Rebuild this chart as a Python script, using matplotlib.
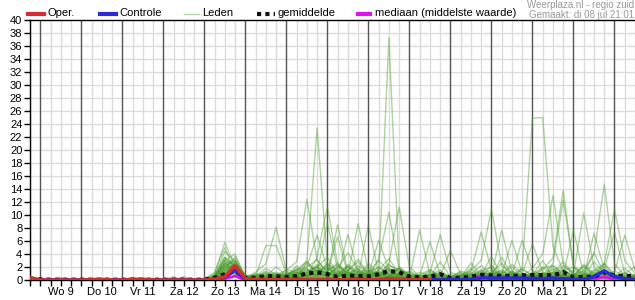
import numpy as np
import matplotlib
matplotlib.use("Agg")
import matplotlib.pyplot as plt
from matplotlib.lines import Line2D

plt.rcParams['font.family'] = ['Liberation Sans', 'DejaVu Sans']

# time axis: hours from Wo 9 00:00, one value every 6 hours (-6h .. 348h)
uren = list(range(-6, 349, 6))
dagen = ["Wo 9", "Do 10", "Vr 11", "Za 12", "Zo 13", "Ma 14", "Di 15",
         "Wo 16", "Do 17", "Vr 18", "Za 19", "Zo 20", "Ma 21", "Di 22"]

# neerslag (mm) per 6 uur
# layout per row: start | 14 days x 4 | 3 tail values
oper = [0.3, 0, 0, 0, 0, 0, 0.05, 0.1, 0, 0, 0.1, 0.1, 0, 0, 0, 0, 0,
        0, 0.1, 0.5, 2.2, 0.2, 0.1, 0.1, 0.05, 0.1, 0.1, 0.05, 0.1,
        0.1, 0.05, 0.05, 0.1, 0.05, 0.05, 0.1, 0.1, 0.05, 0.05, 0.05,
        None, None, None, None, None, None, None, None, None, None,
        None, None, None, None, None, None, None, None, None, None]

controle = [0.2, 0, 0, 0, 0, 0, 0.05, 0.05, 0, 0, 0.05, 0.05, 0, 0, 0, 0, 0,
            0, 0.1, 0.4, 1.5, 0.1, 0.05, 0.05, 0.05, 0.05, 0.1, 0.05, 0.05,
            0.1, 0.05, 0.05, 0.05, 0.05, 0.05, 0.1, 0.05, 0.05, 0.05, 0.05,
            0.05, 0.1, 0.05, 0.1, 0.3, 0.3, 0.3, 0.3, 0.3, 0.25, 0.2, 0.3,
            0.2, 0.1, 0.1, 0.5, 1.4, 0.5, 0.2, 0.1]

gemiddelde = [0.2, 0.1, 0.05, 0.05, 0.05, 0.05, 0.05, 0.05, 0.05, 0.05, 0.05,
              0.05, 0.05, 0.05, 0.05, 0.05, 0.05, 0.05, 0.35, 0.9, 1.4,
              0.3, 0.35, 0.6, 0.55, 0.45, 0.6, 1.0, 1.2, 0.9, 0.45, 0.7, 0.6,
              0.55, 0.9, 1.4, 1.2, 0.5, 0.4, 0.5, 0.9, 0.3, 0.35, 0.5, 0.8,
              0.7, 0.6, 0.6, 0.7, 0.75, 0.75, 0.7, 1.2, 0.4, 0.45, 0.5, 1.2,
              0.65, 0.6, 0.65]

mediaan = [0.2, 0, 0, 0, 0, 0, 0, 0, 0, 0, 0, 0, 0, 0, 0, 0, 0,
           0, 0, 0.2, 0.6, 0, 0, 0, 0, 0, 0.05, 0.1, 0.1, 0.1, 0, 0.1, 0.3,
           0.1, 0.1, 0.3, 0.1, 0, 0, 0, 0.05, 0, 0, 0.1, 0.6, 0.1, 0.1, 0.1,
           0.3, 0.1, 0.1, 0.1, 0.1, 0, 0, 0.1, 0.5, 0.1, 0, 0]

leden = [
    [0.1, 0, 0, 0.2, 0, 0, 0, 0, 0, 0, 0.1, 0, 0, 0, 0, 0, 0, 0, 0.4, 2.5, 1.8,
     0.2, 0, 0.3, 0.5, 0.8, 1.5, 2.0, 3.1, 1.2, 0.6, 2.4, 1.0, 0.5, 1.5, 37.3, 2.0,
     0.3, 0, 0, 0.2, 0, 0, 0.4, 0.8, 1.2, 0.5, 0, 0, 0.3, 0.6, 0.2, 0,
     0, 0, 0.5, 1.2, 0.3, 0, 0],
    [0, 0, 0, 0, 0, 0, 0.1, 0, 0, 0, 0, 0, 0, 0, 0, 0.3, 0, 0, 0.8, 3.5, 2.2,
     0.3, 0.6, 1.1, 0.4, 1.6, 1.2, 3.0, 23.4, 2.5, 0.8, 1.5, 3.2, 1.0, 0.4, 2.2, 1.6,
     0.5, 0.2, 0, 0.4, 0, 0.6, 1.8, 0.5, 0.2, 0, 0.3, 1.0, 0.4, 0, 0, 0,
     0.6, 2.2, 0.8, 0.3, 0, 0.2, 0.5],
    [0.3, 0, 0, 0, 0, 0, 0, 0, 0, 0, 0, 0, 0, 0, 0, 0, 0, 0, 0.2, 1.6, 2.4,
     0.5, 0.2, 0, 0.3, 0.4, 1.0, 1.8, 0.6, 1.4, 2.6, 0.8, 0.3, 0.6, 1.5, 3.3, 0.9,
     0.2, 0.4, 1.2, 0.6, 0, 0, 0.3, 1.4, 2.0, 0.6, 0.4, 1.8, 24.9, 25.0, 5.2, 1.3,
     0.6, 2.4, 1.0, 0.5, 0.2, 0, 0],
    [0, 0, 0, 0, 0, 0, 0, 0, 0, 0, 0, 0, 0, 0, 0, 0, 0, 0, 0.3, 2.0, 3.0,
     0.4, 0, 0.5, 1.0, 0.6, 0.3, 1.2, 2.0, 3.5, 1.0, 0.4, 0.8, 1.6, 0.5, 0.2, 2.0,
     0.6, 0.3, 0, 0, 0.2, 0.5, 0.8, 0.4, 1.0, 2.6, 0.8, 0.3, 0.6, 1.8, 2.2, 0.8,
     0.5, 1.5, 4.0, 14.7, 2.5, 0.6, 0.3],
    [0, 0, 0, 0, 0, 0, 0, 0, 0, 0, 0.2, 0, 0, 0, 0, 0, 0, 0, 0.5, 3.0, 1.5,
     0.2, 0.8, 0.4, 0, 0.3, 0.6, 2.5, 1.0, 0.8, 1.8, 4.2, 1.5, 0.5, 1.2, 0.8, 0.4,
     0.3, 0.2, 0.8, 1.5, 0.4, 0, 0, 0.6, 2.2, 0.8, 0.3, 0, 0.5, 1.6, 3.4, 13.8,
     2.0, 0.5, 0.8, 1.6, 0.4, 1.0, 2.0],
    [0, 0, 0, 0, 0, 0, 0, 0, 0, 0, 0, 0, 0, 0, 0, 0, 0, 0, 0.2, 1.2, 2.6,
     0.6, 0.2, 0.8, 1.2, 0.5, 2.2, 0.6, 1.4, 2.0, 0.8, 1.6, 0.4, 1.0, 3.0, 1.4, 0.6,
     0.4, 0.3, 0, 0.2, 0, 0.4, 1.0, 2.2, 0.8, 0.5, 1.3, 0.6, 1.8, 4.0, 13.0, 2.4,
     0.8, 0.3, 0.6, 2.0, 0.6, 0.3, 0],
    [0.4, 0, 0, 0, 0, 0, 0, 0, 0, 0, 0, 0, 0, 0, 0, 0.5, 0, 0, 1.0, 5.8, 2.0,
     0.3, 0.6, 1.8, 0.8, 1.5, 2.8, 12.4, 3.0, 1.2, 0.5, 2.0, 0.8, 0.4, 1.0, 0.5, 1.6,
     1.0, 0.3, 0.2, 0, 0, 0.2, 0.6, 0.3, 0.8, 1.4, 0.5, 0.2, 0.4, 0.2, 1.0, 2.2,
     1.0, 0.6, 0.3, 0, 0.5, 1.2, 0.4],
    [0, 0, 0, 0, 0, 0, 0, 0, 0, 0, 0, 0, 0, 0, 0, 0, 0, 0, 0.4, 4.4, 2.8,
     0.8, 0.3, 0.6, 2.0, 0.8, 1.2, 0.6, 3.5, 11.3, 2.5, 1.0, 1.8, 0.6, 0.4, 1.5, 0.8,
     0.3, 0.6, 0.4, 0.2, 0.2, 0, 0.3, 0.8, 1.6, 0.5, 0.2, 0.6, 0.3, 1.0, 0.4, 0.8,
     1.5, 0.6, 2.8, 1.0, 0.3, 0, 0],
    [0, 0, 0.1, 0, 0, 0, 0, 0, 0, 0, 0, 0.3, 0, 0, 0, 0, 0, 0, 0.3, 2.2, 1.6,
     0.4, 1.0, 0.6, 0.3, 0.2, 0.8, 1.6, 0.8, 2.6, 1.4, 0.5, 1.0, 0.8, 2.0, 1.0, 0.5,
     1.4, 0.6, 0.3, 0.8, 0.4, 0.6, 1.5, 3.0, 10.9, 2.2, 0.8, 0.4, 1.2, 0.6, 0.3, 0.8,
     0.5, 0.3, 1.4, 2.6, 0.8, 0.4, 0.2],
    [0, 0, 0, 0, 0, 0, 0, 0, 0, 0, 0, 0, 0, 0, 0, 0, 0, 0, 0.6, 3.0, 4.0,
     0.5, 0.2, 0.3, 0.6, 1.0, 0.4, 2.8, 1.2, 0.6, 2.2, 0.8, 0.4, 2.6, 0.8, 0.6, 1.2,
     0.5, 0.2, 0.6, 1.0, 0.3, 0.2, 0, 0.5, 0.8, 1.0, 2.4, 1.0, 0.6, 0.8, 1.2, 2.8,
     1.0, 10.3, 2.0, 0.6, 0.3, 0.6, 0.8],
    [0, 0, 0, 0, 0, 0, 0, 0, 0, 0, 0, 0, 0, 0, 0, 0, 0, 0, 0.2, 1.8, 3.3,
     0.6, 0.4, 0.2, 0.8, 0.6, 1.8, 0.8, 2.2, 1.0, 0.6, 1.4, 2.8, 0.8, 0.3, 1.2, 0.6,
     0.3, 0.8, 1.6, 0.4, 0, 0.3, 0.6, 1.2, 0.5, 0.8, 0.3, 1.6, 0.8, 2.0, 0.6, 0.4,
     0.3, 1.0, 0.6, 2.4, 10.9, 3.0, 1.0],
    [0, 0, 0, 0, 0, 0, 0, 0, 0, 0, 0, 0, 0, 0, 0, 0, 0, 0, 0.4, 2.8, 2.5,
     0.2, 0.5, 1.4, 0.6, 0.8, 1.2, 0.6, 1.8, 0.8, 2.0, 1.0, 0.6, 1.5, 0.8, 2.6, 11.2,
     2.0, 0.6, 0.4, 1.0, 0.6, 0.2, 0.5, 0.8, 0.3, 1.2, 0.8, 0.4, 1.0, 0.5, 1.8, 0.6,
     0.4, 0.8, 0.3, 0.5, 1.4, 0.6, 0.2],
    [0.2, 0, 0, 0, 0, 0, 0, 0, 0, 0, 0, 0, 0, 0, 0, 0, 0, 0, 0.6, 3.5, 1.8,
     0.5, 0.8, 0.3, 0.2, 0.4, 0.6, 1.0, 2.4, 1.6, 0.8, 2.2, 1.2, 0.6, 3.2, 10.4, 1.5,
     0.8, 0.4, 0.2, 0, 0.3, 0.8, 0.4, 0.2, 0.6, 0.4, 1.0, 0.5, 0.2, 0.8, 0.6, 1.4,
     2.0, 0.8, 0.5, 0.3, 0, 0.4, 0.6],
    [0, 0, 0, 0, 0, 0, 0, 0, 0, 0, 0, 0, 0, 0, 0, 0, 0, 0, 0.3, 2.4, 3.0,
     0.4, 1.2, 2.5, 8.1, 1.4, 0.6, 1.2, 0.8, 2.4, 1.0, 0.6, 1.4, 0.8, 0.4, 1.8, 0.6,
     0.3, 1.2, 0.6, 0.4, 0.2, 0, 0.4, 1.0, 0.6, 0.3, 0.8, 1.8, 0.5, 1.2, 0.4, 0.6,
     1.0, 0.4, 0.8, 1.6, 0.5, 0.2, 0],
    [0, 0, 0, 0, 0, 0, 0, 0, 0, 0, 0, 0, 0, 0, 0, 0, 0, 0, 0.5, 3.2, 2.0,
     0.6, 0.5, 5.3, 5.3, 1.0, 0.8, 2.0, 6.9, 1.8, 0.6, 1.0, 0.5, 1.2, 2.0, 0.8, 0.4,
     0.6, 0.2, 0.8, 0.5, 0.3, 0.6, 1.2, 0.8, 0.4, 0.6, 0.3, 0.5, 0.8, 0.4, 2.2, 1.0,
     0.6, 1.4, 0.5, 0.3, 0.8, 0.3, 0.5],
    [0, 0, 0, 0, 0, 0, 0, 0, 0, 0, 0, 0, 0, 0, 0, 0, 0, 0, 0.2, 1.5, 2.2,
     0.3, 0.2, 0.6, 1.0, 0.5, 1.6, 2.8, 1.2, 8.8, 1.6, 0.8, 8.7, 1.4, 0.6, 0.8, 0.5,
     0.2, 0.4, 1.5, 0.8, 0.3, 0.2, 0.6, 1.4, 0.6, 0.8, 1.2, 0.4, 0.3, 0.6, 1.0, 0.5,
     0.8, 2.0, 0.6, 0.4, 0.2, 0.8, 0.4],
    [0, 0, 0, 0, 0, 0, 0, 0, 0, 0, 0, 0, 0, 0, 0, 0, 0, 0, 0.8, 2.0, 1.4,
     0.5, 0.3, 0.8, 0.4, 1.2, 0.6, 1.4, 2.0, 0.8, 8.5, 1.2, 0.6, 8.5, 1.0, 0.6, 1.8,
     0.5, 0.3, 0.2, 0.6, 0.4, 1.0, 0.6, 0.3, 1.2, 0.8, 2.0, 0.6, 0.5, 0.3, 0.8, 1.8,
     0.4, 0.6, 1.2, 0.8, 0.5, 1.0, 0.3],
    [0, 0, 0, 0, 0, 0, 0, 0, 0, 0, 0, 0, 0, 0, 0, 0, 0, 0, 0.3, 2.6, 1.2,
     0.2, 0.6, 0.3, 0.5, 0.8, 1.0, 0.4, 1.6, 1.0, 0.5, 7.0, 1.2, 0.8, 6.1, 1.6, 0.6,
     0.4, 7.7, 0.8, 0.3, 0.2, 0.5, 1.0, 0.6, 0.8, 0.3, 1.4, 0.6, 0.4, 1.0, 0.5, 0.3,
     0.6, 0.4, 1.0, 2.4, 0.8, 0.3, 0.6],
    [0.1, 0, 0, 0.4, 0, 0, 0, 0, 0, 0, 0, 0, 0, 0, 0, 0, 0, 0, 0.2, 1.0, 2.8,
     0.6, 0.4, 1.2, 0.5, 0.3, 0.8, 1.6, 0.6, 1.4, 2.4, 0.8, 0.5, 1.0, 0.6, 2.4, 1.2,
     0.6, 0.3, 1.0, 7.0, 1.2, 0.6, 1.4, 7.4, 1.5, 0.8, 0.4, 1.0, 0.6, 0.4, 1.2, 0.8,
     0.3, 0.6, 0.4, 1.2, 0.6, 0.3, 0.2],
    [0, 0, 0, 0, 0, 0, 0.2, 0, 0, 0, 0, 0, 0, 0, 0, 0, 0, 0, 0.4, 1.8, 2.0,
     0.3, 0.8, 0.4, 0.2, 0.6, 0.3, 0.8, 1.4, 0.6, 1.0, 2.0, 0.8, 0.4, 0.8, 0.5, 1.8,
     1.0, 0.4, 0.6, 0.3, 0.5, 0.2, 0.8, 1.6, 0.6, 7.7, 1.2, 0.5, 0.8, 0.6, 1.6, 0.4,
     0.6, 1.0, 0.5, 0.8, 1.2, 6.9, 1.5],
    [0, 0, 0, 0, 0, 0, 0, 0, 0, 0, 0.4, 0, 0, 0, 0, 0, 0, 0, 0.6, 2.2, 1.6,
     0.4, 0.3, 0.6, 0.8, 0.5, 1.2, 0.6, 0.8, 2.0, 0.6, 0.4, 1.2, 0.8, 1.4, 0.6, 0.3,
     0.2, 0.6, 0.4, 0.8, 0.6, 1.2, 0.4, 0.6, 1.0, 0.8, 6.1, 1.0, 0.5, 0.6, 0.4, 1.2,
     0.8, 0.4, 7.2, 1.6, 7.4, 1.0, 0.4],
    [0, 0, 0, 0, 0, 0, 0, 0, 0, 0, 0, 0, 0, 0, 0.5, 0, 0, 0, 0.3, 1.4, 2.6,
     0.8, 0.2, 0.4, 0.3, 0.6, 0.4, 1.0, 0.8, 1.2, 0.4, 0.6, 2.2, 1.0, 0.5, 1.4, 0.8,
     0.3, 0.6, 0.2, 0.4, 0.8, 0.5, 0.3, 1.0, 0.6, 1.2, 0.8, 6.1, 1.4, 0.8, 2.5, 12.3,
     2.2, 1.0, 0.6, 0.4, 0.8, 0.5, 0.3],
    [0, 0, 0, 0, 0, 0, 0, 0, 0, 0, 0, 0, 0, 0, 0, 0, 0, 0, 0.2, 0.8, 2.2,
     0.5, 0.6, 0.3, 0.4, 0.8, 1.6, 0.5, 1.0, 0.6, 1.2, 0.8, 0.4, 0.6, 1.0, 0.4, 0.8,
     1.2, 0.5, 0.3, 0.2, 0.4, 0.8, 1.0, 0.5, 0.8, 0.4, 0.6, 1.0, 5.6, 1.2, 0.6, 0.8,
     7.7, 0.8, 0.5, 1.0, 0.6, 0.3, 0.8],
    [0, 0, 0, 0, 0, 0, 0, 0, 0, 0, 0, 0, 0, 0, 0, 0, 0, 0, 0.4, 1.6, 1.0,
     0.3, 0.2, 0.5, 0.6, 0.3, 0.5, 0.8, 0.4, 1.0, 0.6, 1.2, 0.8, 2.0, 0.6, 1.0, 0.4,
     0.8, 0.6, 5.9, 0.8, 0.3, 1.4, 0.8, 0.4, 0.6, 0.5, 1.0, 0.3, 0.8, 0.6, 0.4, 1.6,
     0.5, 0.3, 0.8, 1.0, 0.6, 1.8, 0.5],
    [0, 0, 0, 0, 0, 0, 0, 0, 0, 0, 0, 0, 0, 0, 0, 0, 0, 0, 0.2, 1.0, 0.8,
     0.2, 0.4, 0.2, 0.3, 0.6, 0.4, 0.2, 0.8, 0.4, 0.6, 0.5, 0.3, 0.8, 0.4, 0.6, 0.2,
     0.4, 0.2, 0.3, 0.5, 0.2, 0.4, 2.6, 0.6, 0.5, 0.3, 0.6, 0.4, 0.6, 0.3, 0.8, 0.5,
     0.4, 0.6, 0.3, 0.5, 0.3, 0.2, 0.4],
    [0, 0, 0, 0, 0, 0, 0, 0, 0, 0, 0, 0, 0, 0, 0, 0, 0, 0, 0.5, 2.0, 3.6,
     0.4, 0.6, 1.0, 0.4, 0.5, 0.8, 1.2, 2.0, 1.0, 6.7, 0.8, 1.6, 0.6, 1.2, 0.5, 0.3,
     0.4, 0.8, 0.6, 1.2, 0.3, 0.6, 0.4, 0.2, 0.8, 1.6, 0.5, 0.3, 0.4, 0.6, 1.2, 0.5,
     0.3, 0.6, 1.6, 0.8, 0.4, 0.6, 0.3],
    [0.6, 0.2, 0, 0, 0, 0, 0, 0, 0, 0, 0, 0, 0, 0, 0, 0, 0, 0.2, 1.2, 5.0, 1.0,
     0.3, 0.2, 0.4, 0.8, 1.0, 0.5, 0.3, 0.6, 0.8, 1.4, 0.6, 0.5, 1.2, 0.8, 0.4, 0.6,
     0.2, 0.4, 0.8, 0.6, 4.6, 0.8, 0.3, 0.5, 0.4, 0.6, 1.0, 0.5, 0.3, 0.8, 0.5, 0.6,
     0.4, 0.8, 4.2, 1.0, 0.5, 0.3, 0.6],
    [0, 0, 0, 0, 0, 0, 0, 0, 0, 0, 0, 0, 0, 0, 0, 0, 0, 0, 0.3, 1.2, 1.8,
     0.4, 0.2, 0.3, 0.2, 0.4, 0.3, 0.6, 1.2, 0.5, 0.8, 0.4, 1.0, 0.4, 0.6, 1.8, 0.5,
     0.3, 0.2, 0.4, 0.3, 0.2, 0.5, 0.3, 0.8, 3.6, 0.6, 0.4, 0.5, 0.8, 3.0, 0.4, 0.6,
     0.3, 0.5, 0.4, 0.6, 0.8, 0.4, 0.2],
    [0, 0, 0, 0, 0, 0, 0, 0, 0, 0, 0, 0, 0, 0, 0, 0, 0, 0, 0.6, 2.6, 1.5,
     0.5, 0.3, 0.8, 0.5, 0.3, 1.2, 0.5, 0.4, 0.6, 0.4, 1.2, 0.6, 0.4, 0.8, 0.6, 1.2,
     0.6, 0.4, 0.5, 2.8, 0.5, 0.3, 0.6, 0.4, 0.6, 3.5, 0.8, 0.4, 0.5, 0.4, 0.6, 0.3,
     0.8, 0.5, 0.3, 0.6, 0.4, 0.3, 0.8],
    [0, 0, 0, 0, 0, 0, 0, 0, 0, 0, 0, 0, 0, 0, 0, 0, 0, 0, 0.2, 0.6, 1.2,
     0.3, 0.4, 0.3, 0.6, 0.4, 0.2, 0.4, 0.6, 0.3, 0.5, 0.6, 0.4, 0.5, 0.3, 0.4, 0.6,
     0.2, 0.3, 0.6, 0.4, 0.2, 0.3, 0.5, 0.6, 0.4, 0.5, 0.3, 0.2, 0.5, 0.3, 0.4, 0.6,
     0.4, 0.3, 0.5, 0.2, 0.3, 0.2, 0.3],
]
for rij in leden:
    assert len(rij) == len(uren), len(rij)

W, H = 635, 300
fig = plt.figure(figsize=(W / 100, H / 100), dpi=100)
ax = fig.add_axes([30 / W, 20 / H, 605 / W, 260 / H])

fx = lambda px: px / W
fy = lambda py: 1 - py / H

x = np.array(uren)
for rij in leden:
    ax.plot(x, rij, color='#4e9e30', alpha=0.45, lw=1, zorder=3)

ax.plot(x, mediaan, color='#e010f0', lw=2, zorder=4)
ax.plot(x, gemiddelde, color='#111111', lw=3, linestyle=(0, (1, 1)), zorder=5)
ax.plot(x, controle, color='#2a2ad8', lw=2.5, zorder=6)
ax.plot(x, np.array(oper, dtype=float), color='#d82c2c', lw=2.5, zorder=7)

ax.set_xlim(-6, 348)
ax.set_ylim(0, 40)

# grid: light every 6h / 2mm, dark at midnight
ax.set_yticks(np.arange(0, 41, 2))
ax.set_xticks(np.arange(12, 14 * 24, 24))
ax.set_xticklabels(dagen)
ax.set_xticks(np.arange(-6, 349, 6), minor=True)
for v in np.arange(-6, 349, 6):
    if v % 24 == 0:
        ax.axvline(v, color='#555555', lw=1, zorder=2)
    else:
        ax.axvline(v, color='#dcdcdc', lw=1, zorder=1)
for h in np.arange(2, 40, 2):
    ax.axhline(h, color='#dcdcdc', lw=1, zorder=1)

ax.tick_params(axis='both', which='both', direction='out', length=4,
               width=1, color='black', labelsize=8, pad=1.5)
ax.tick_params(axis='x', pad=1)
for s in ['left', 'bottom', 'top']:
    ax.spines[s].set_color('black')
    ax.spines[s].set_linewidth(1)
ax.spines['right'].set_visible(False)

# legend along the top
ly = fy(13.5)
def legend_item(x0, x1, tekst, tx, **kw):
    fig.add_artist(Line2D([fx(x0), fx(x1)], [ly, ly], transform=fig.transFigure, **kw))
    fig.text(fx(tx), ly, tekst, fontsize=8, va='center', ha='left')

legend_item(28, 44, "Oper.", 47, color='#d82c2c', lw=3)
legend_item(100, 116, "Controle", 119, color='#2a2ad8', lw=3)
legend_item(184, 199, "Leden", 202, color='#b5d8a5', lw=1)
legend_item(257, 275, "gemiddelde", 277, color='#111111', lw=3, linestyle=(0, (1, 1)))
legend_item(356, 372, "mediaan (middelste waarde)", 375, color='#e010f0', lw=3,
            linestyle=(0, (4, 1, 1, 1)))

fig.text(fx(634), fy(5), "Weerplaza.nl - regio zuid", fontsize=7,
         color='#999999', ha='right', va='center')
fig.text(fx(634), fy(15.5), "Gemaakt: di 08 jul 21:01", fontsize=7,
         color='#999999', ha='right', va='center')

fig.savefig("out.png", dpi=100)
